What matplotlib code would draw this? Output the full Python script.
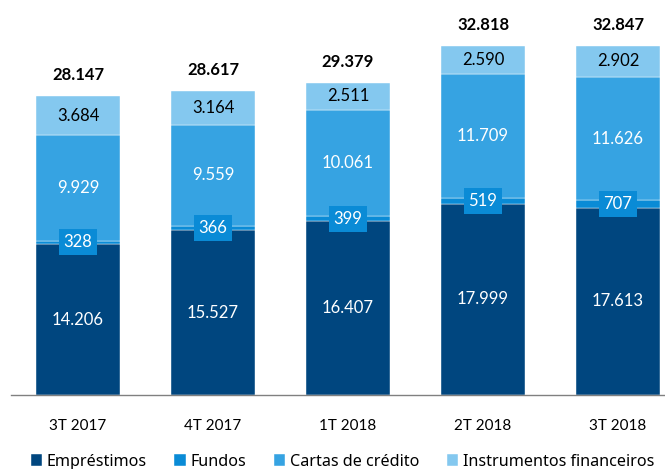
import matplotlib.pyplot as plt
import numpy as np

# Dados por trimestre
trimestres = ["3T 2017", "4T 2017", "1T 2018", "2T 2018", "3T 2018"]
emprestimos = [14206, 15527, 16407, 17999, 17613]
fundos = [328, 366, 399, 519, 707]
cartas = [9929, 9559, 10061, 11709, 11626]
instrumentos = [3684, 3164, 2511, 2590, 2902]
totais = [28147, 28617, 29379, 32818, 32847]

cores = ["#00467f", "#0a8bd6", "#36a3e2", "#84c8ef"]
nomes = ["Empréstimos", "Fundos", "Cartas de crédito", "Instrumentos financeiros"]

plt.rcParams["font.family"] = ["Lato", "DejaVu Sans"]

fig = plt.figure(figsize=(6.65, 4.69), dpi=100)
ax = fig.add_axes([10.5 / 665, (469 - 395) / 469, (665 - 10.5) / 665, 395 / 469])

x = np.arange(len(trimestres))
largura = 0.62
series = [emprestimos, fundos, cartas, instrumentos]
base = np.zeros(len(x))
for valores, cor, nome in zip(series, cores, nomes):
    ax.bar(x, valores, largura, bottom=base, color=cor, label=nome,
           edgecolor="white", linewidth=0.3)
    base += np.array(valores)

fmt = lambda v: f"{v:,}".replace(",", ".")

# Rótulos dentro das barras
for i in range(len(x)):
    b = 0
    for k, valores in enumerate(series):
        v = valores[i]
        centro = b + v / 2
        if k == 1:
            ax.text(x[i], centro, fmt(v), ha="center", va="center", color="white",
                    fontsize=12,
                    bbox=dict(boxstyle="square,pad=0.3", fc=cores[1], ec="none"))
        else:
            cor_txt = "black" if k == 3 else "white"
            ax.text(x[i], centro, fmt(v), ha="center", va="center", color=cor_txt,
                    fontsize=12)
        b += v
    ax.annotate(fmt(totais[i]), (x[i], base[i]), xytext=(0, 15), textcoords="offset points",
                ha="center", va="center", fontsize=12, fontweight="bold")

ax.set_xlim(-0.5, (665 - 78) / 135)
ax.set_ylim(0, 395 / 0.010625)
ax.set_xticks(x)
ax.set_xticklabels(trimestres, fontsize=11)
ax.tick_params(axis="x", length=0, pad=17)
ax.set_yticks([])
for lado in ["top", "right", "left"]:
    ax.spines[lado].set_visible(False)
ax.spines["bottom"].set_color("#808080")
ax.spines["bottom"].set_linewidth(1)

fig.legend(loc="lower center", bbox_to_anchor=(0.515, -0.032), ncol=4, frameon=False,
           handlelength=0.7, handleheight=0.7, handletextpad=0.3,
           columnspacing=1.7, prop={"family": ["Noto Sans", "DejaVu Sans"], "size": 11.6})

fig.savefig("out.png", dpi=100)
